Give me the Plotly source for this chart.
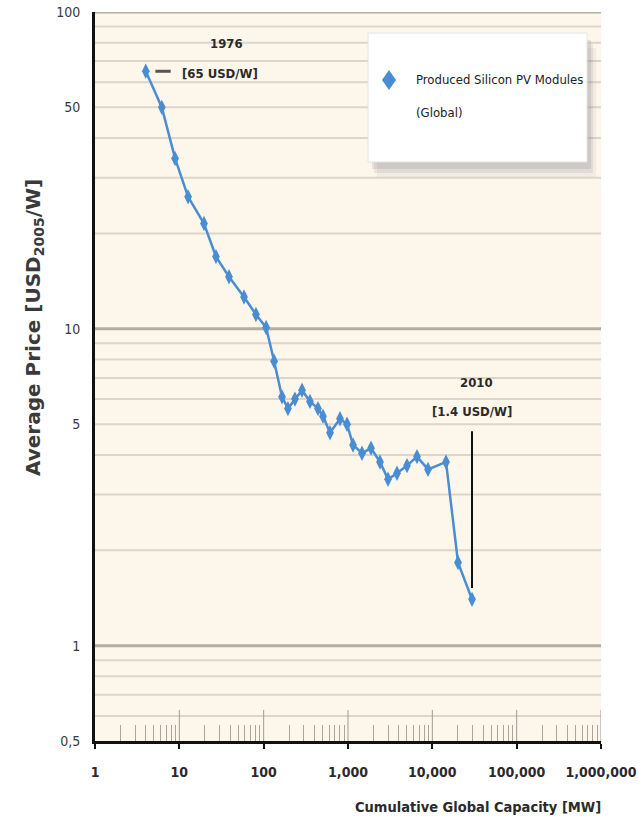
import math
import plotly.graph_objects as go

# Cumulative global capacity (MW) and module price (USD2005/W), 1976 -> 2010
capacity_mw = [4.0, 6.2, 8.9, 12.7, 19.6, 27.2, 38.8, 58.5, 81, 107, 133, 165, 194, 235,
               285, 354, 441, 505, 612, 804, 973, 1147, 1466, 1875, 2396, 2982, 3813,
               5009, 6580, 8889, 14530, 20160, 29550]
price_usd_w = [65, 50, 34.5, 26.1, 21.5, 16.9, 14.6, 12.6, 11.1, 10.1, 7.9, 6.1, 5.6, 6.0,
               6.4, 5.9, 5.6, 5.3, 4.7, 5.2, 5.0, 4.3, 4.05, 4.2, 3.8, 3.35, 3.5, 3.7,
               3.95, 3.6, 3.8, 1.83, 1.4]

x_tickvals = [1, 10, 100, 1000, 10000, 100000, 1000000]
x_ticktext = ["1", "10", "100", "1,000", "10,000", "100,000", "1,000,000"]
y_tickvals = [0.5, 1, 5, 10, 50, 100]
y_ticktext = ["0,5", "1", "5", "10", "50", "100"]

series_name = "Produced Silicon PV Modules"
series_sub = "(Global)"

BLUE = "#4a8dd2"
NARROW = "DejaVu Sans Condensed, Liberation Sans Narrow, sans-serif"

W, H = 639, 824
L, R, T, B = 95, 38, 12, 83
PW, PH = W - L - R, H - T - B


def px(xp):
    return (xp - L) / PW


def py(yp):
    return (H - B - yp) / PH


def nfont(size, color="#2a2a2a", weight="normal"):
    return dict(family=NARROW, size=size, color=color, weight=weight)


fig = go.Figure()

fig.add_trace(go.Scatter(
    x=capacity_mw, y=price_usd_w, mode="lines+markers",
    line=dict(color=BLUE, width=2.5),
    marker=dict(symbol="diamond-tall", size=11, color=BLUE),
    showlegend=False, hoverinfo="x+y",
))

shapes = []
# horizontal grid lines
major_y = [1, 10, 100]
minor_y = [k / 10 for k in range(6, 10)] + list(range(2, 10)) + [k * 10 for k in range(2, 10)]
for v in minor_y:
    shapes.append(dict(type="line", xref="paper", yref="y", x0=0, x1=1, y0=v, y1=v,
                       line=dict(color="#ddd5c8", width=2), layer="below"))
for v in major_y:
    shapes.append(dict(type="line", xref="paper", yref="y", x0=0, x1=1, y0=v, y1=v,
                       line=dict(color="#b3ada4", width=3), layer="below"))
# long inside ticks at decades
for v in x_tickvals[1:]:
    shapes.append(dict(type="line", xref="x", yref="paper", x0=v, x1=v, y0=0, y1=31 / PH,
                       line=dict(color="#a09a92", width=1), layer="below"))

# 1976 leader dash
shapes.append(dict(type="line", xref="x", yref="y", x0=5.2, x1=7.9, y0=price_usd_w[0],
                   y1=price_usd_w[0], line=dict(color="#555555", width=3)))
# 2010 leader line
shapes.append(dict(type="line", xref="x", yref="y", x0=capacity_mw[-1], x1=capacity_mw[-1],
                   y0=1.52, y1=4.75, line=dict(color="#111111", width=2)))

# legend box with soft shadow
for dx, dy, op in [(9, 15, 0.08), (6, 11, 0.12), (4, 7, 0.16)]:
    shapes.append(dict(type="rect", xref="paper", yref="paper",
                       x0=px(368 + dx), x1=px(587 + dx), y0=py(33 + dy), y1=py(162 + dy),
                       fillcolor=f"rgba(110,110,125,{op})", line=dict(width=0)))
shapes.append(dict(type="rect", xref="paper", yref="paper",
                   x0=px(368), x1=px(587), y0=py(33), y1=py(162),
                   fillcolor="white", line=dict(color="#e4e4e4", width=1)))
# legend diamond
cx, cy = 389, 80
path = (f"M {px(cx)} {py(cy - 10)} L {px(cx + 7)} {py(cy)} "
        f"L {px(cx)} {py(cy + 10)} L {px(cx - 7)} {py(cy)} Z")
shapes.append(dict(type="path", xref="paper", yref="paper", path=path,
                   fillcolor=BLUE, line=dict(width=0)))

annotations = []
for text, xp, yp in [("1976", 226, 44), ("[65 USD/W]", 220, 73),
                     ("2010", 476, 383), ("[1.4 USD/W]", 472, 411)]:
    annotations.append(dict(text=text, x=px(xp), y=py(yp), xref="paper", yref="paper",
                            showarrow=False, xanchor="center", yanchor="middle",
                            font=nfont(13, "#2a2a2a", weight="bold")))

annotations += [
    dict(text=series_name, x=px(414), y=py(80), xref="paper", yref="paper", showarrow=False,
         xanchor="left", yanchor="middle", font=nfont(13, "#222222")),
    dict(text=series_sub, x=px(414), y=py(112), xref="paper", yref="paper", showarrow=False,
         xanchor="left", yanchor="middle", font=nfont(13, "#222222")),
    dict(text="Average Price [USD<sub>2005</sub>/W]", x=px(34), y=py(328), xref="paper",
         yref="paper", showarrow=False, textangle=-90, xanchor="center", yanchor="middle",
         font=dict(family="DejaVu Sans, sans-serif", size=20, color="#3a3a3a", weight="bold")),
    dict(text="Cumulative Global Capacity [MW]", x=px(603), y=py(807), xref="paper",
         yref="paper", showarrow=False, xanchor="right", yanchor="middle",
         font=nfont(14.5, weight="bold")),
]

fig.update_layout(
    width=W, height=H,
    margin=dict(l=L, r=R, t=T, b=B, autoexpand=False),
    paper_bgcolor="white", plot_bgcolor="#fdf6eb",
    shapes=shapes, annotations=annotations,
    xaxis=dict(
        type="log", range=[0, 6], automargin=False,
        tickmode="array", tickvals=x_tickvals, ticktext=x_ticktext,
        ticklabeloverflow="allow",
        showgrid=False, zeroline=False,
        showline=True, linecolor="#111111", linewidth=3,
        ticks="outside", ticklen=5, tickwidth=2, tickcolor="#111111",
        ticklabelstandoff=11,
        tickfont=nfont(14, weight="bold"),
        minor=dict(tickmode="array",
                   tickvals=[k * 10 ** d for d in range(6) for k in range(2, 10)],
                   ticks="inside", ticklen=16, tickwidth=1, tickcolor="#aaa49c",
                   showgrid=False),
    ),
    yaxis=dict(
        type="log", range=[math.log10(0.5), 2], automargin=False,
        tickmode="array", tickvals=y_tickvals, ticktext=y_ticktext,
        ticklabeloverflow="allow",
        showgrid=False, zeroline=False,
        showline=True, linecolor="#111111", linewidth=3,
        ticks="", ticklabelstandoff=9,
        tickfont=nfont(14, "#3a3a3a"),
    ),
)

fig.write_html("out.html")
